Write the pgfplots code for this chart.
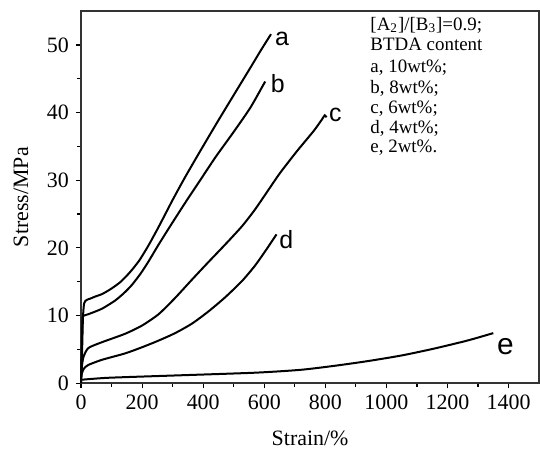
\documentclass[border=0pt]{standalone}
\usepackage{fontspec}
\setmainfont{Liberation Serif}
\newfontfamily\arial{Liberation Sans}
\usepackage{pgfplots}
\pgfplotsset{compat=1.18}

\begin{document}
\begin{tikzpicture}
\begin{axis}[
  scale only axis, width=229bp, height=186bp,
  xmin=0, xmax=1500, ymin=0, ymax=55,
  xtick={0,200,...,1400}, ytick={0,10,...,50},
  minor x tick num=1, minor y tick num=1,
  tick pos=left, tick align=outside,
  major tick length=2.6bp, minor tick length=1.8bp,
  axis line style={line width=0.7bp, black!80},
  every tick/.style={line width=0.6bp, black},
  tick label style={font=\fontsize{11}{13}\selectfont},
  /pgf/number format/assume math mode=true,
  /pgf/number format/set thousands separator={},
  xlabel={Strain/\%}, ylabel={Stress/MPa},
  label style={font=\fontsize{11}{13}\selectfont},
  xlabel style={at={(axis description cs:0.5,-0.148)}, anchor=center},
  ylabel style={at={(axis description cs:-0.131,0.5)}, anchor=center},
  curve/.style={black, line width=1bp, no marks, smooth, tension=0.4},
  clip=false,
]
% a, 10wt%
\addplot[curve] coordinates {(0,0) (3,4) (6,9.5) (10,11.8) (18,12.3) (30,12.5) (46,12.8) (70,13.2) (100,14) (130,15) (160,16.4) (190,18.1) (220,20.3) (254,23.1) (300,27.1) (340,30.4) (390,34.3) (445,38.5) (500,42.6) (554,46.6) (590,49.3) (622,51.6)};
% b, 8wt%
\addplot[curve] coordinates {(0,0) (2,5) (5,9.6) (10,10) (24,10.2) (68,11) (111,12.2) (140,13.3) (166,14.5) (195,16.2) (221,18) (250,20.2) (286,22.8) (340,26.6) (390,30) (440,33.4) (499,37.1) (554,40.7) (598,44.2) (603,44.6)};
% c, 6wt%
\addplot[curve] coordinates {(0,1) (3,2.6) (8,3.9) (24,5.2) (68,6.05) (144,7.3) (199,8.5) (254,10.2) (308,12.6) (363,15.3) (417,17.9) (472,20.5) (527,23.2) (570,25.7) (620,29) (652,31.1) (707,34.3) (762,37.3) (789,39) (798,39.6) (804,39.3)};
% d, 4wt%
\addplot[curve] coordinates {(0,0.8) (3,1.5) (10,2.2) (24,2.7) (68,3.45) (144,4.4) (199,5.3) (254,6.3) (308,7.4) (363,8.8) (417,10.6) (472,12.7) (527,15.1) (570,17.4) (609,19.9) (640,22)};
% e, 2wt%
\addplot[curve] coordinates {(0,0.5) (90,0.8) (308,1.14) (570,1.55) (718,1.97) (827,2.55) (937,3.25) (1050,4.1) (1155,5.1) (1265,6.3) (1350,7.4)};

\node[font=\arial\fontsize{12.5}{14}\selectfont] at (axis cs:658,50.9) {a};
\node[font=\arial\fontsize{12.5}{14}\selectfont] at (axis cs:644,44.3) {b};
\node[font=\arial\fontsize{12.5}{14}\selectfont] at (axis cs:833,39.6) {c};
\node[font=\arial\fontsize{12.5}{14}\selectfont] at (axis cs:672,21.2) {d};
\node[font=\arial\fontsize{15}{17}\selectfont] at (axis cs:1390,5.4) {e};

\begin{scope}[every node/.style={anchor=base west, inner sep=0pt, font=\fontsize{9.5}{11}\selectfont}]
\node at (rel axis cs:0.631,0.949) {[A\textsubscript{2}]/[B\textsubscript{3}]=0.9;};
\node at (rel axis cs:0.631,0.895) {BTDA content};
\node at (rel axis cs:0.631,0.834) {a, 10wt\%;};
\node at (rel axis cs:0.631,0.778) {b, 8wt\%;};
\node at (rel axis cs:0.631,0.725) {c, 6wt\%;};
\node at (rel axis cs:0.631,0.672) {d, 4wt\%;};
\node at (rel axis cs:0.631,0.620) {e, 2wt\%.};
\end{scope}

\coordinate (bl) at (rel axis cs:-0.177,-0.180);
\coordinate (tr) at (rel axis cs:1.002,1.030);
\end{axis}
\pgfresetboundingbox
\path[use as bounding box] (bl) rectangle (tr);
\end{tikzpicture}
\end{document}
